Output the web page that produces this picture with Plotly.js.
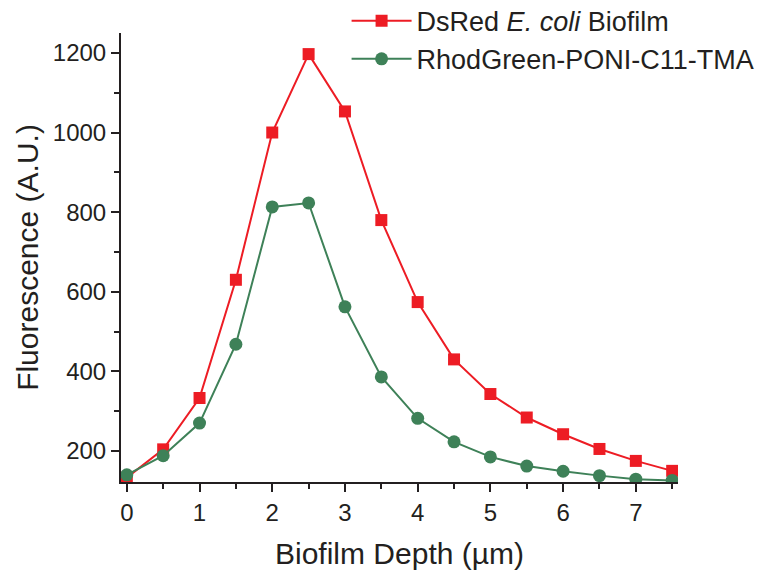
<!DOCTYPE html>
<html><head><meta charset="utf-8">
<script src="https://cdn.plot.ly/plotly-3.0.1.min.js"></script>
<style>body{margin:0;background:#fff}#c{width:765px;height:570px}</style>
</head><body><div id="c"></div>
<script>
const depth = [0,0.5,1,1.5,2,2.5,3,3.5,4,4.5,5,5.5,6,6.5,7,7.5];
const dsred = [133,204,333,630,1000,1197,1053,780,574,430,343,284,242,205,175,150];
const rhod  = [140,188,270,468,813,823,562,386,282,223,185,162,149,138,129,126];
const nameRed = 'DsRed <i>E. coli</i> Biofilm';
const nameGreen = 'RhodGreen-PONI-C11-TMA';
const red = '#ed1c24', green = '#3e8158', ink = '#231f20';
const font = "Liberation Sans, Arial, sans-serif";
const traces = [
 {x: depth, y: dsred, name: nameRed, mode: 'lines+markers', legendgroup:'a',
  line:{color:red, width:2}, marker:{symbol:'square', size:12, color:red}},
 {x: depth, y: rhod, name: nameGreen, mode: 'lines+markers', legendgroup:'b',
  line:{color:green, width:2}, marker:{symbol:'circle', size:13, color:green}}
];
const layout = {
 width:765, height:570,
 margin:{l:121, r:87, t:33, b:88, autoexpand:false},
 paper_bgcolor:'#fff', plot_bgcolor:'#fff',
 font:{family:font, color:ink},
 showlegend:true,
 legend:{x:0.405, y:1.081, xanchor:'left', yanchor:'top', font:{size:27, color:ink, family:font},
   itemwidth:60, traceorder:'grouped', tracegroupgap:0, bgcolor:'rgba(0,0,0,0)'},
 xaxis:{range:[-0.08,7.58], tickvals:[0,1,2,3,4,5,6,7], showgrid:false, zeroline:false,
   showline:true, linecolor:ink, linewidth:2, ticks:'outside', ticklen:8, tickwidth:2, tickcolor:ink,
   tickfont:{size:24, color:ink},
   minor:{tickvals:[0.5,1.5,2.5,3.5,4.5,5.5,6.5,7.5], ticks:'outside', ticklen:5, tickwidth:2, tickcolor:ink, showgrid:false},
   title:{text:'Biofilm Depth (µm)', font:{size:30, color:ink}, standoff:19}},
 yaxis:{range:[122,1250], tickvals:[200,400,600,800,1000,1200], showgrid:false, zeroline:false,
   showline:true, linecolor:ink, linewidth:2, ticks:'outside', ticklen:8, tickwidth:2, tickcolor:ink,
   tickfont:{size:24, color:ink},
   minor:{tickvals:[300,500,700,900,1100], ticks:'outside', ticklen:5, tickwidth:2, tickcolor:ink, showgrid:false},
   title:{text:'Fluorescence (A.U.)', font:{size:30, color:ink}, standoff:5}}
};
Plotly.newPlot('c', traces, layout, {displayModeBar:false});
</script></body></html>
